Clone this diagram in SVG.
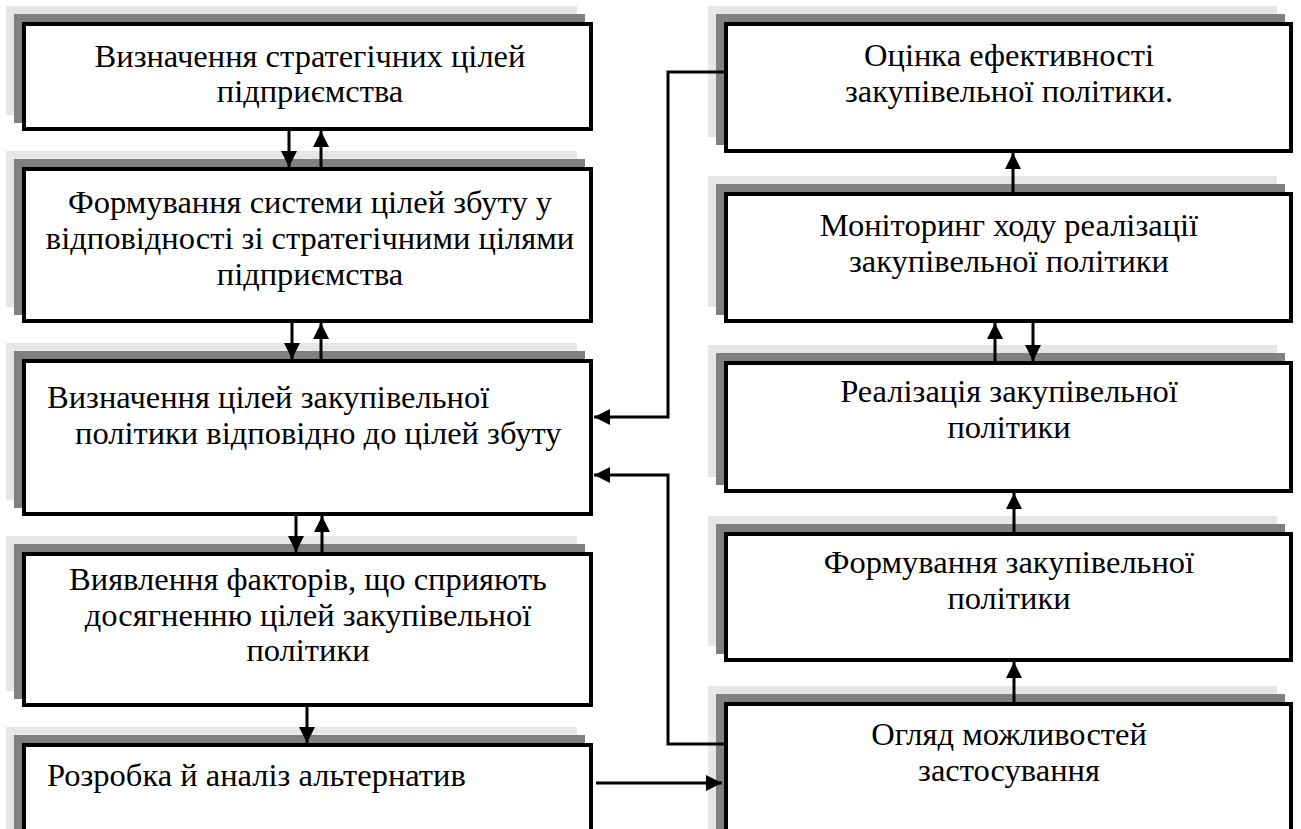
<svg xmlns="http://www.w3.org/2000/svg" width="1301" height="829" viewBox="0 0 1301 829">
<style>
.sh1{fill:#e6e6e6}
.sh2{fill:#808080}
.box{fill:#fff;stroke:#000;stroke-width:4}
.t{font-family:"Liberation Serif","Times New Roman",serif;font-size:32.5px;fill:#000}
.c{text-anchor:middle}
.ln{fill:none;stroke:#000;stroke-width:3}
</style>
<defs>
<marker id="ah" markerUnits="userSpaceOnUse" markerWidth="16" markerHeight="16" refX="16" refY="8" orient="auto">
<path d="M0,0 L16,8 L0,16 z" fill="#000"/>
</marker>
</defs>
<rect width="1301" height="829" fill="#fff"/>
<g id="n1">
<rect class="sh1" x="6" y="6" width="571" height="109"/>
<rect class="sh2" x="14" y="14" width="571" height="109"/>
<rect class="box" x="24" y="24" width="567" height="105"/>
<text class="t c" x="310" y="67">Визначення стратегічних цілей</text>
<text class="t c" x="310" y="102">підприємства</text>
</g>
<g id="n2">
<rect class="sh1" x="6" y="151" width="571" height="156"/>
<rect class="sh2" x="14" y="159" width="571" height="156"/>
<rect class="box" x="24" y="169" width="567" height="152"/>
<text class="t c" x="310" y="213">Формування системи цілей збуту у</text>
<text class="t c" x="310" y="249">відповідності зі стратегічними цілями</text>
<text class="t c" x="310" y="285">підприємства</text>
</g>
<g id="n3">
<rect class="sh1" x="6" y="343" width="571" height="157"/>
<rect class="sh2" x="14" y="351" width="571" height="157"/>
<rect class="box" x="24" y="361" width="567" height="153"/>
<text class="t" x="47" y="408">Визначення цілей закупівельної</text>
<text class="t" x="75" y="444">політики відповідно до цілей збуту</text>
</g>
<g id="n4">
<rect class="sh1" x="6" y="536" width="571" height="155"/>
<rect class="sh2" x="14" y="544" width="571" height="155"/>
<rect class="box" x="24" y="554" width="567" height="151"/>
<text class="t c" x="308" y="590">Виявлення факторів, що сприяють</text>
<text class="t c" x="308" y="626">досягненню цілей закупівельної</text>
<text class="t c" x="308" y="661">політики</text>
</g>
<g id="n5">
<rect class="sh1" x="6" y="727" width="571" height="120"/>
<rect class="sh2" x="14" y="735" width="571" height="120"/>
<rect class="box" x="24" y="745" width="567" height="116"/>
<text class="t" x="47" y="786">Розробка й аналіз альтернатив</text>
</g>
<g id="r1">
<rect class="sh1" x="708" y="6" width="569" height="131"/>
<rect class="sh2" x="716" y="14" width="569" height="131"/>
<rect class="box" x="726" y="24" width="565" height="127"/>
<text class="t c" x="1009" y="66">Оцінка ефективності</text>
<text class="t c" x="1009" y="102">закупівельної політики.</text>
</g>
<g id="r2">
<rect class="sh1" x="708" y="176" width="569" height="131"/>
<rect class="sh2" x="716" y="184" width="569" height="131"/>
<rect class="box" x="726" y="194" width="565" height="127"/>
<text class="t c" x="1009" y="236">Моніторинг ходу реалізації</text>
<text class="t c" x="1009" y="272">закупівельної політики</text>
</g>
<g id="r3">
<rect class="sh1" x="708" y="345" width="569" height="132"/>
<rect class="sh2" x="716" y="353" width="569" height="132"/>
<rect class="box" x="726" y="363" width="565" height="128"/>
<text class="t c" x="1009" y="402">Реалізація закупівельної</text>
<text class="t c" x="1009" y="438">політики</text>
</g>
<g id="r4">
<rect class="sh1" x="708" y="516" width="569" height="130"/>
<rect class="sh2" x="716" y="524" width="569" height="130"/>
<rect class="box" x="726" y="534" width="565" height="126"/>
<text class="t c" x="1009" y="573">Формування закупівельної</text>
<text class="t c" x="1009" y="609">політики</text>
</g>
<g id="r5">
<rect class="sh1" x="708" y="686" width="569" height="160"/>
<rect class="sh2" x="716" y="694" width="569" height="160"/>
<rect class="box" x="726" y="704" width="565" height="156"/>
<text class="t c" x="1009" y="745">Огляд можливостей</text>
<text class="t c" x="1009" y="781">застосування</text>
</g>
<g id="connectors">
<line class="ln" x1="289" y1="131" x2="289" y2="167" marker-end="url(#ah)"/>
<line class="ln" x1="321" y1="167" x2="321" y2="131" marker-end="url(#ah)"/>
<line class="ln" x1="292" y1="323" x2="292" y2="359" marker-end="url(#ah)"/>
<line class="ln" x1="321" y1="359" x2="321" y2="323" marker-end="url(#ah)"/>
<line class="ln" x1="296" y1="516" x2="296" y2="552" marker-end="url(#ah)"/>
<line class="ln" x1="322" y1="552" x2="322" y2="516" marker-end="url(#ah)"/>
<line class="ln" x1="307" y1="707" x2="307" y2="743" marker-end="url(#ah)"/>
<line class="ln" x1="1013" y1="192" x2="1013" y2="153" marker-end="url(#ah)"/>
<line class="ln" x1="995" y1="361" x2="995" y2="323" marker-end="url(#ah)"/>
<line class="ln" x1="1033" y1="323" x2="1033" y2="361" marker-end="url(#ah)"/>
<line class="ln" x1="1014" y1="532" x2="1014" y2="493" marker-end="url(#ah)"/>
<line class="ln" x1="1014" y1="702" x2="1014" y2="662" marker-end="url(#ah)"/>
<polyline class="ln" points="724,72 668,72 668,417 594,417" marker-end="url(#ah)"/>
<polyline class="ln" points="724,744 668,744 668,475 594,475" marker-end="url(#ah)"/>
<line class="ln" x1="596" y1="783" x2="722" y2="783" marker-end="url(#ah)"/>
</g>
</svg>
